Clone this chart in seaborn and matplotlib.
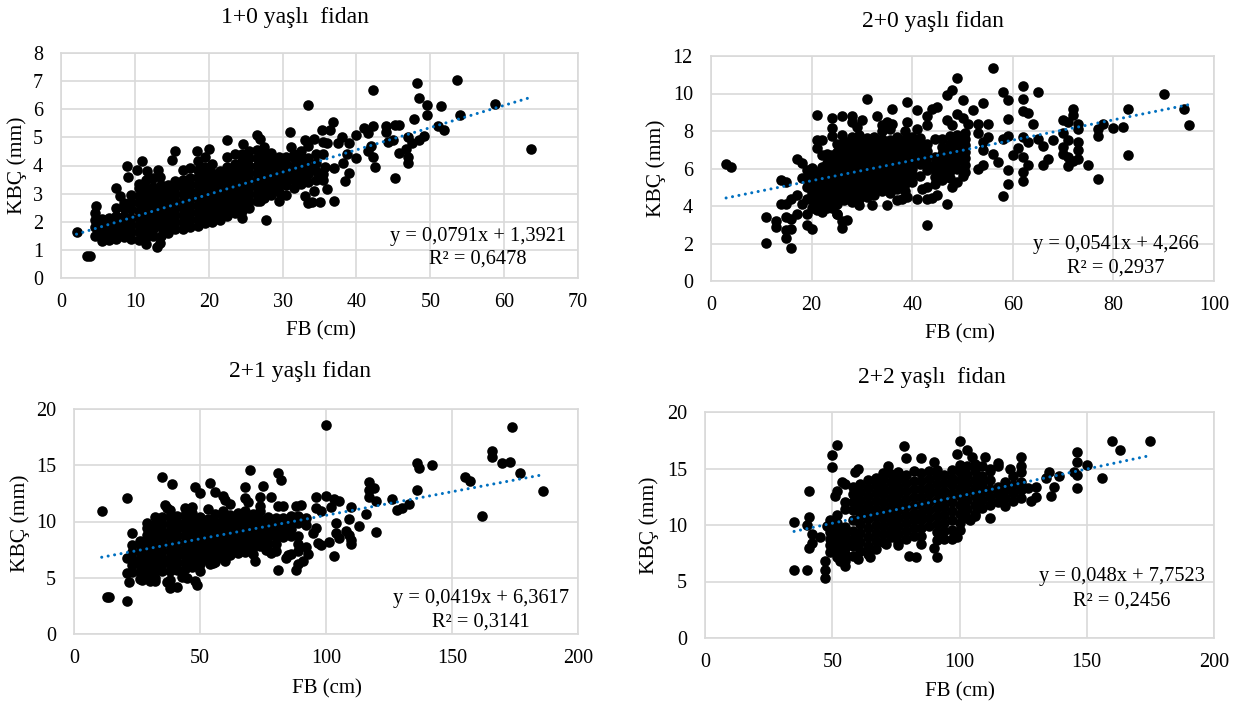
import matplotlib
matplotlib.use("Agg")
import pandas as pd
import seaborn as sns
import matplotlib.pyplot as plt

# every group is (FB value, [KBC values read at that FB])
cloud_a = [
    (4.6, [1.5, 1.8, 2.05, 2.3]), (5.5, [1.3, 1.6, 1.85, 2.1]), (6.5, [1.35, 1.6, 1.85, 2.15]),
    (7.5, [1.4, 1.65, 1.9, 2.2]), (8.5, [1.45, 1.7, 1.95, 2.2, 2.5, 2.65]),
    (9.5, [1.4, 1.65, 1.9, 2.15, 2.45, 2.7, 2.95]),
    (10.5, [1.35, 1.65, 1.9, 2.15, 2.4, 2.65, 2.9, 3.2, 3.35]),
    (11.5, [1.45, 1.7, 1.95, 2.2, 2.45, 2.7, 2.95, 3.2, 3.5]),
    (12.5, [1.5, 1.75, 2.0, 2.25, 2.5, 2.75, 3.0, 3.25, 3.55]),
    (13.5, [1.5, 1.8, 2.05, 2.3, 2.55, 2.8, 3.05, 3.3]),
    (14.5, [1.6, 1.85, 2.1, 2.35, 2.6, 2.85, 3.1, 3.3]),
    (15.5, [1.75, 2.0, 2.25, 2.5, 2.75, 3.0, 3.25, 3.45]),
    (16.5, [1.75, 2.0, 2.25, 2.5, 2.75, 3.0, 3.25, 3.5, 3.85]),
    (17.5, [1.8, 2.05, 2.3, 2.55, 2.8, 3.05, 3.3, 3.55, 3.9]),
    (18.5, [1.85, 2.1, 2.35, 2.6, 2.85, 3.1, 3.35, 3.6, 3.85, 4.15]),
    (19.5, [1.95, 2.2, 2.45, 2.7, 2.95, 3.2, 3.45, 3.7, 3.95, 4.3]),
    (20.5, [2.0, 2.25, 2.5, 2.75, 3.0, 3.25, 3.5, 3.75, 4.05]),
    (21.5, [2.05, 2.3, 2.55, 2.8, 3.05, 3.3, 3.55, 3.8]),
    (22.5, [2.2, 2.45, 2.7, 2.95, 3.2, 3.45, 3.7, 3.95, 4.3]),
    (23.5, [2.3, 2.55, 2.8, 3.05, 3.3, 3.55, 3.8, 4.05, 4.4]),
    (24.5, [2.4, 2.65, 2.9, 3.15, 3.4, 3.65, 3.9, 4.15, 4.4]),
    (25.5, [2.5, 2.75, 3.0, 3.25, 3.5, 3.75, 4.0, 4.25, 4.5]),
    (26.5, [2.75, 3.0, 3.25, 3.5, 3.75, 4.0, 4.25, 4.55]),
    (27.5, [2.85, 3.1, 3.35, 3.6, 3.85, 4.1, 4.35, 4.65]),
    (28.5, [2.95, 3.2, 3.45, 3.7, 3.95, 4.2, 4.45]),
    (29.5, [3.05, 3.3, 3.55, 3.8, 4.05, 4.3]),
    (30.5, [2.95, 3.3, 3.55, 3.8, 4.05, 4.3]),
    (31.5, [3.2, 3.5, 3.75, 4.0, 4.25, 4.4]),
    (32.5, [3.35, 3.6, 3.85, 4.1, 4.35, 4.5]),
    (33.5, [3.4, 3.7, 3.95, 4.25, 4.7]),
    (34.5, [3.5, 3.8, 4.1, 4.4]),
    (35.5, [3.5, 3.7, 4.4]),
]
single_a = [
    (2.1, 1.65), (3.5, 0.78), (3.9, 0.78), (4.8, 2.55), (13, 1.1), (13.4, 1.25), (11.5, 1.2),
    (9, 4.0), (9.1, 3.6), (7.5, 3.2), (8, 2.9), (7.5, 2.5), (11, 4.15), (10.3, 3.85), (11.7, 3.8),
    (13.1, 3.85), (13.4, 3.6), (15, 4.2), (15.5, 4.5), (18.4, 4.5), (20, 4.6), (22.5, 4.9),
    (24.7, 4.75), (26.5, 5.1), (26.9, 4.95), (27.8, 2.05), (24.5, 2.15), (29.5, 2.75), (27, 2.75),
    (31, 5.2), (31.2, 4.65), (33, 4.9), (33.5, 6.15), (34.3, 4.95), (35.4, 5.25), (36.4, 5.25),
    (36.8, 5.55), (35.5, 4.85), (36, 4.8), (37.5, 4.8), (38, 5), (39, 4.8), (38.7, 4.4), (38.5, 3.45),
    (39, 3.75), (38.2, 4.1), (37, 2.75), (36, 3.15), (35.7, 3.95), (35, 2.7), (34, 2.7), (33.4, 2.65),
    (33, 2.9), (34.2, 3.1), (37, 3.9), (40, 5.1), (40, 4.25), (41, 5.35), (41.5, 5.15), (42.2, 5.4),
    (42.3, 6.7), (42, 4.7), (41.5, 4.5), (42.2, 4.3), (42.5, 3.95), (44, 5.4), (44, 5.2), (44.3, 4.85),
    (45, 4.9), (45.2, 5.45), (45.8, 5.45), (45.2, 3.55), (45.8, 4.45), (46.7, 4.6), (47, 4.3), (47, 4.1),
    (47, 5), (47.5, 4.8), (47.8, 5.65), (48.2, 6.95), (48.5, 6.4), (48.5, 4.9), (49.2, 5.05), (49.5, 5.8),
    (49.6, 6.15), (51, 5.4), (51.5, 6.1), (51.9, 5.25), (53.6, 7.05), (54, 5.8), (58.8, 6.2), (63.7, 4.6),
]

cloud_b = [
    (19, [4.4, 5.0, 5.5, 5.9]), (20, [3.9, 4.3, 4.7, 5.2, 5.7, 6.05]),
    (21, [3.8, 4.2, 4.6, 5.0, 5.4, 5.8]), (22, [3.7, 4.1, 4.5, 4.9, 5.3, 5.7, 6.1]),
    (23, [3.9, 4.3, 4.7, 5.1, 5.5, 5.9, 6.3, 6.8]), (24, [3.9, 4.25, 4.6, 4.95, 5.3, 5.65, 6.0, 6.35, 6.7]),
    (25, [3.6, 4.1, 4.45, 4.8, 5.15, 5.5, 5.85, 6.2, 6.55, 6.9, 7.3]),
    (26.5, [4.3, 4.65, 5.0, 5.35, 5.7, 6.05, 6.4, 6.75, 7.1, 7.45]),
    (28, [4.2, 4.55, 4.9, 5.25, 5.6, 5.95, 6.3, 6.65, 7.0, 7.35, 7.7]),
    (29.5, [4.05, 4.4, 4.75, 5.1, 5.45, 5.8, 6.15, 6.5, 6.85, 7.2, 7.55, 7.8]),
    (31, [4.5, 4.85, 5.2, 5.55, 5.9, 6.25, 6.6, 6.95, 7.3, 7.65]),
    (32.5, [4.6, 4.95, 5.3, 5.65, 6.0, 6.35, 6.7, 7.05, 7.4, 7.7]),
    (34, [4.8, 5.15, 5.5, 5.85, 6.2, 6.55, 6.9, 7.25, 7.6, 8.0]),
    (35.5, [4.7, 5.05, 5.4, 5.75, 6.1, 6.45, 6.8, 7.15, 7.5, 8.1]),
    (37, [4.9, 5.25, 5.6, 5.95, 6.3, 6.65, 7.0, 7.35, 7.7]),
    (38.5, [4.8, 5.15, 5.5, 5.85, 6.2, 6.55, 6.9, 7.25, 7.6, 8.0]),
    (40, [5.3, 5.65, 6.0, 6.35, 6.7, 7.05, 7.4, 7.7]),
    (41.5, [5.6, 6.25, 6.6, 6.95, 7.3, 7.65]),
    (43, [5.0, 5.9, 6.25, 6.6, 6.95, 7.3]),
    (44.5, [5.2, 5.55, 5.9, 6.25, 6.6, 7.6]),
    (46, [5.4, 5.75, 6.1, 6.45, 6.8, 7.15, 7.6]),
    (47.5, [5.5, 5.85, 6.2, 6.55, 7.0, 7.3, 7.75]),
    (49, [6.0, 6.4, 6.75, 7.1, 7.45, 7.8]),
    (50.5, [5.8, 6.2, 6.55, 6.9, 7.25, 7.6, 7.9]),
]
single_b = [
    (3, 6.25), (4, 6.1), (11, 3.4), (11, 2.05), (13, 3.2), (13, 2.9), (14, 4.1), (14, 5.4), (15, 5.3),
    (15, 4.1), (15, 3.4), (15, 2.7), (15, 2.3), (16, 1.75), (16, 2.8), (16, 3.3), (16, 4.4), (17, 4.6),
    (17, 3.6), (17, 6.5), (18, 6.3), (18, 5.5), (18, 4.1), (19, 3.0), (19, 3.6), (20, 2.8), (21, 8.85),
    (21, 7.5), (21, 7.1), (22, 7.5), (22, 6.7), (24, 8.7), (24, 8.15), (24, 7.75), (26, 8.8), (26, 7.8),
    (28, 8.8), (28, 8.5), (29, 8.2), (30, 8.6), (31, 9.7), (33, 8.8), (34, 8.3), (35, 8.5), (36, 9.15),
    (36, 8.4), (39, 9.55), (39, 8.5), (41, 9.1), (41, 8.1), (43, 8.8), (43, 8.3), (44, 9.2), (45, 9.3),
    (47, 9.9), (47, 8.6), (48, 10.2), (48, 8.3), (49, 10.85), (49, 8.9), (50, 9.65), (50, 8.7), (51, 8.4),
    (52, 9.1), (53, 8.4), (54, 9.5), (55, 8.4), (56, 11.35), (56, 6.8), (57, 6.35), (58, 10.1), (58, 7.6),
    (58, 4.55), (59, 9.65), (59, 8.65), (59, 7.75), (59, 5.9), (59, 5.15), (60, 6.7), (61, 7.1), (62, 10.4),
    (62, 9.7), (62, 9.05), (62, 7.7), (62, 6.6), (62, 5.8), (62, 5.35), (63, 8.95), (63, 7.4), (63, 6.2),
    (64, 8.4), (65, 10.1), (65, 7.6), (66, 7.2), (66, 6.2), (67, 6.5), (68, 7.5), (70, 8.6), (70, 7.9),
    (70, 7.15), (70, 6.8), (71, 8.5), (71, 7.5), (71, 6.6), (71, 6.15), (72, 9.2), (72, 8.85), (72, 6.4),
    (73, 8.4), (73, 8.1), (73, 7.4), (73, 7.0), (73, 6.5), (75, 6.2), (77, 8.1), (77, 7.75), (77, 5.45),
    (78, 8.4), (80, 8.15), (82, 8.2), (83, 9.2), (83, 6.7), (90, 10), (94, 9.15), (95, 8.3), (26, 2.85),
    (26, 3.2), (27, 3.25), (25, 3.6), (32, 4.05), (35, 4.05), (37, 4.3), (38, 4.4), (39, 4.5), (41, 4.4),
    (42, 4.9), (43, 3.0), (43, 4.4), (44, 4.45), (45, 4.6), (47, 4.1), (48, 5), (50, 5.6), (49, 5.3),
    (53, 6), (54, 6.2), (54, 7), (55, 7.7), (53, 7.9), (54, 7.4),
]

cloud_c = [
    (23, [5.5, 6.1, 6.7, 7.3, 7.9]), (26, [4.9, 5.5, 6.1, 6.7, 7.3, 7.9, 8.3]),
    (29, [5.2, 5.8, 6.4, 7.0, 7.6, 8.2, 8.8, 9.4, 9.9]),
    (32, [5.0, 5.6, 6.2, 6.8, 7.4, 8.0, 8.6, 9.2, 9.8, 10.4]),
    (35, [5.6, 6.2, 6.8, 7.4, 8.0, 8.6, 9.2, 9.8, 10.4]),
    (38, [5.6, 6.2, 6.8, 7.4, 8.0, 8.6, 9.2, 9.8, 10.4, 11.0]),
    (41, [5.7, 6.3, 6.9, 7.5, 8.1, 8.7, 9.3, 9.9, 10.5]),
    (44, [5.8, 6.4, 7.0, 7.6, 8.2, 8.8, 9.4, 10.0, 10.6, 11.2]),
    (47, [6.0, 6.6, 7.2, 7.8, 8.4, 9.0, 9.6, 10.2, 10.8, 11.3]),
    (50, [5.6, 6.2, 6.8, 7.4, 8.0, 8.6, 9.2, 9.8, 10.4]),
    (53, [6.6, 7.2, 7.8, 8.4, 9.0, 9.6, 10.2, 11.1]),
    (56, [6.4, 7.0, 7.6, 8.2, 8.8, 9.4, 10.0, 10.7]),
    (59, [6.8, 7.4, 8.0, 8.6, 9.2, 9.8, 10.4, 10.9]),
    (62, [7.0, 7.6, 8.2, 8.8, 9.4, 10.0, 10.6]),
    (65, [7.2, 7.8, 8.4, 9.0, 9.6, 10.2, 10.8]),
    (68, [7.3, 7.9, 8.5, 9.1, 9.7, 10.3, 10.9]),
    (71, [7.1, 7.7, 8.3, 8.9, 9.5, 10.1, 10.7]),
    (74, [7.8, 8.4, 9.0, 9.6, 10.2, 10.9, 11.4]),
    (77, [7.5, 8.1, 8.7, 9.3, 9.9, 10.4]),
    (80, [7.4, 8.0, 8.6, 9.2, 9.8, 10.3]),
    (83, [8.6, 9.2, 9.8, 10.3]), (86, [7.1, 8.7, 9.3, 9.9, 10.5]),
    (89, [7.4, 8.0, 8.7, 9.9, 10.5]), (92, [7.7, 9.7, 10.3]),
]
single_c = [
    (11, 10.9), (13, 3.3), (14, 3.3), (21, 2.9), (21, 12.05), (22, 4.6), (21, 5.4), (21, 6.8), (23, 9),
    (35, 14), (36, 11.5), (39, 13.3), (37, 11.2), (38, 4.8), (37, 4.6), (38, 4.1), (41, 4.2), (43, 5.1),
    (48, 4.7), (49, 4.4), (48, 13.1), (50, 12.5), (54, 13.4), (56, 12.6), (59, 12.3), (60, 11.9), (62, 11.6),
    (68, 13.1), (70, 14.6), (68, 12.1), (69, 11.7), (75, 13.2), (74, 12.2), (78, 12.2), (81, 14.3), (82, 13.7),
    (81, 11.4), (83, 11.4), (81, 5.7), (84, 6.8), (85, 7), (88, 5.7), (89, 6.2), (91, 6.5), (93, 7.1), (88, 11.4),
    (90, 11.5), (96, 12.2), (96, 11.2), (100, 18.6), (100, 12.3), (101, 8.2), (97, 8.1), (98, 7.9), (95, 9),
    (96, 9.4), (98, 10.9), (102, 11.3), (103, 12), (105, 11.8), (103, 6.9), (104, 9), (105, 8.5), (104, 9.9),
    (108, 9.2), (109, 10.2), (109, 8.8), (110, 8.4), (110, 8.0), (110, 11.3), (113, 9.6), (116, 10.7), (117, 12.8),
    (117, 13.5), (117, 12.2), (119, 13), (120, 11.8), (120, 9.1), (126, 12), (128, 11), (130, 11.2), (133, 11.6),
    (136, 12.8), (136, 15.2), (137, 14.8), (142, 15), (155, 14), (157, 13.6), (162, 10.5), (166, 16.3), (166, 15.7),
    (170, 15.2), (173, 15.3), (174, 18.4), (177, 14.3), (186, 12.7), (30, 4.7), (32, 4.7), (27, 4.8), (45, 5),
    (54, 6.2), (55, 6.3), (60, 6.5), (72, 6.5), (78, 7.2), (76, 7.5),
]

cloud_d = [
    (49, [7.6, 8.2, 8.8, 9.4, 10.0, 10.4]), (52, [7.2, 7.8, 8.4, 9.0, 9.6, 10.2, 10.9]),
    (55, [6.8, 7.4, 8.0, 8.6, 9.2, 9.8, 11.4, 12.0, 13.6]),
    (58, [7.3, 8.1, 8.8, 9.5, 10.4, 11.3, 12.0, 12.7, 13.4]),
    (61, [7.7, 8.5, 9.3, 10.1, 10.8, 11.5, 12.2, 12.9, 13.6]),
    (64, [7.4, 8.1, 8.9, 9.7, 10.5, 11.2, 11.9, 12.6, 13.3, 14.0]),
    (67, [7.9, 8.6, 9.3, 10.0, 10.7, 11.4, 12.1, 12.8, 13.5, 14.2]),
    (70, [8.5, 9.2, 9.9, 10.6, 11.3, 12.0, 12.7, 13.4, 14.1, 14.6]),
    (73, [8.9, 9.6, 10.3, 11.0, 11.7, 12.4, 13.1, 13.8, 14.5]),
    (76, [8.5, 9.2, 9.9, 10.6, 11.3, 12.0, 12.7, 13.4, 14.1, 14.7]),
    (79, [8.8, 9.5, 10.2, 10.9, 11.6, 12.3, 13.0, 13.7, 14.4]),
    (82, [9.0, 9.7, 10.4, 11.1, 11.8, 12.5, 13.2, 13.9, 14.8]),
    (85, [8.3, 9.0, 9.7, 10.4, 11.1, 11.8, 12.5, 13.2, 13.9, 14.6]),
    (88, [9.9, 10.6, 11.3, 12.0, 12.7, 13.4, 14.1, 14.8]),
    (91, [8.7, 9.4, 10.1, 10.8, 11.5, 12.2, 12.9, 13.6, 14.3, 14.9]),
    (94, [8.8, 9.5, 10.2, 10.9, 11.6, 12.3, 13.0, 13.7, 14.4]),
    (97, [8.8, 9.6, 10.4, 11.2, 12.0, 12.8, 13.5, 14.2, 14.9]),
    (100, [10.2, 11.0, 11.8, 12.6, 13.3, 14.0, 14.7, 15.3]),
    (103, [10.6, 11.4, 12.2, 13.0, 13.7, 14.4, 15.2]),
    (106, [11.0, 11.8, 12.6, 13.3, 14.0, 14.8, 15.4]),
    (109, [11.5, 12.2, 12.9, 13.6, 14.3, 15.2]),
    (112, [11.8, 12.5, 13.2, 14.0, 14.8]), (115, [12.0, 12.7, 13.4, 15.2]),
    (118, [11.7, 12.4, 13.1, 13.8]), (121, [12.1, 12.8, 13.5, 14.3]), (124, [12.4, 13.1, 13.8]),
]
single_d = [
    (35, 10.3), (35, 6), (40, 6), (40, 10), (41, 13), (41, 10.7), (41, 8), (42, 9.2), (42, 8.4), (45, 8.9),
    (47, 6.8), (47, 6), (47, 5.3), (48, 9.9), (50, 16.2), (50, 15.1), (52, 17.1), (51, 12.6), (52, 13), (54, 13.8),
    (55, 6.4), (53, 6.8), (59, 14.7), (60, 15), (60, 7), (65, 7.2), (71, 8.3), (76, 8.2), (80, 7.3), (83, 7.2),
    (91, 7.2), (90, 8), (72, 15.2), (78, 17), (79, 15.9), (85, 15.9), (90, 15.6), (100, 17.4), (99, 16.3),
    (103, 16.6), (105, 16), (110, 16), (112, 15), (115, 15.5), (120, 15), (124, 16), (124, 15.2), (124, 14.7),
    (127, 13.3), (128, 12.1), (130, 12.5), (130, 13.4), (134, 14.2), (135, 14.7), (136, 12.6), (137, 13.4),
    (139, 14.3), (145, 14.7), (146, 16.5), (146, 15.6), (146, 14.4), (146, 13.3), (150, 15.3), (156, 14.2),
    (160, 17.4), (163, 16.6), (175, 17.4), (112, 10.6), (106, 10.8), (104, 10.4), (100, 9.6), (99, 8.9),
]

titles = ["1+0 yaşlı  fidan", "2+0 yaşlı fidan", "2+1 yaşlı fidan", "2+2 yaşlı  fidan"]
equations = ["y = 0,0791x + 1,3921", "y = 0,0541x + 4,266", "y = 0,0419x + 6,3617", "y = 0,048x + 7,7523"]
r_squared = ["R² = 0,6478", "R² = 0,2937", "R² = 0,3141", "R² = 0,2456"]
slopes = [0.0791, 0.0541, 0.0419, 0.048]
intercepts = [1.3921, 4.266, 6.3617, 7.7523]
trend_start = [2.1, 3, 11, 35]
trend_end = [63.7, 95, 186, 175]
x_limits = [70, 100, 200, 200]
x_steps = [10, 20, 50, 50]
y_limits = [8, 12, 20, 20]
y_steps = [1, 2, 5, 5]

W, H = 1246, 707
BLUE = "#0070C0"
GRID = "#D9D9D9"

# pixel boxes: left, top, right, bottom
boxes = [(61, 53, 578, 278), (711, 56, 1214, 281), (74, 409, 578, 634), (705, 412, 1214, 638)]
title_xy = [(295, 18), (933, 21), (300, 372), (932, 377)]
xlabel_xy = [(321, 331), (960, 334), (327, 689), (960, 692)]
ylabel_xy = [(17, 165), (656, 168), (20, 523), (649, 525)]
eq_xy = [(478, 236), (1116, 245), (481, 598), (1122, 577)]
r2_xy = [(478, 259), (1116, 268), (481, 622), (1122, 601)]


def to_frame(cloud, single):
    rows = [(x, y) for x, ys in cloud for y in ys] + single
    return pd.DataFrame(rows, columns=["FB", "KBC"])


def put_text(fig, xy, txt, **kw):
    fig.text(xy[0] / W, 1 - xy[1] / H, txt, ha="center", va="center", color="black", **kw)


def main():
    sns.set_style("white")
    plt.rcParams["font.family"] = ["Liberation Serif", "DejaVu Serif"]
    frames = [to_frame(cloud_a, single_a), to_frame(cloud_b, single_b),
              to_frame(cloud_c, single_c), to_frame(cloud_d, single_d)]

    fig = plt.figure(figsize=(W / 100, H / 100), dpi=100)
    for i, df in enumerate(frames):
        l, t, r, b = boxes[i]
        ax = fig.add_axes([l / W, 1 - b / H, (r - l) / W, (b - t) / H])
        ax.set_axisbelow(True)
        sns.scatterplot(data=df, x="FB", y="KBC", color="black", s=58, linewidth=0, ax=ax, zorder=3)
        trend = pd.DataFrame({"x": [trend_start[i], trend_end[i]]})
        trend["y"] = slopes[i] * trend["x"] + intercepts[i]
        sns.lineplot(data=trend, x="x", y="y", color=BLUE, linewidth=2.2, linestyle=(0, (0.01, 2.13)),
                     dash_capstyle="round", errorbar=None, ax=ax, zorder=4)
        ax.set_xlim(0, x_limits[i])
        ax.set_ylim(0, y_limits[i])
        ax.set_xticks(range(0, x_limits[i] + 1, x_steps[i]))
        ax.set_yticks(range(0, y_limits[i] + 1, y_steps[i]))
        ax.grid(True, color=GRID, linewidth=1.2)
        ax.set_xlabel("")
        ax.set_ylabel("")
        ax.tick_params(length=0, labelsize=14.5, labelcolor="black")
        ax.tick_params(axis="x", pad=11)
        ax.tick_params(axis="y", pad=13)
        for s in ax.spines.values():
            s.set_color(GRID)
            s.set_linewidth(1.2)
        put_text(fig, title_xy[i], titles[i], fontsize=17)
        put_text(fig, xlabel_xy[i], "FB (cm)", fontsize=15)
        put_text(fig, ylabel_xy[i], "KBÇ (mm)", fontsize=15.5, rotation=90)
        put_text(fig, eq_xy[i], equations[i], fontsize=14.7)
        put_text(fig, r2_xy[i], r_squared[i], fontsize=14.7)

    fig.savefig("out.png", dpi=100)


if __name__ == "__main__":
    main()
